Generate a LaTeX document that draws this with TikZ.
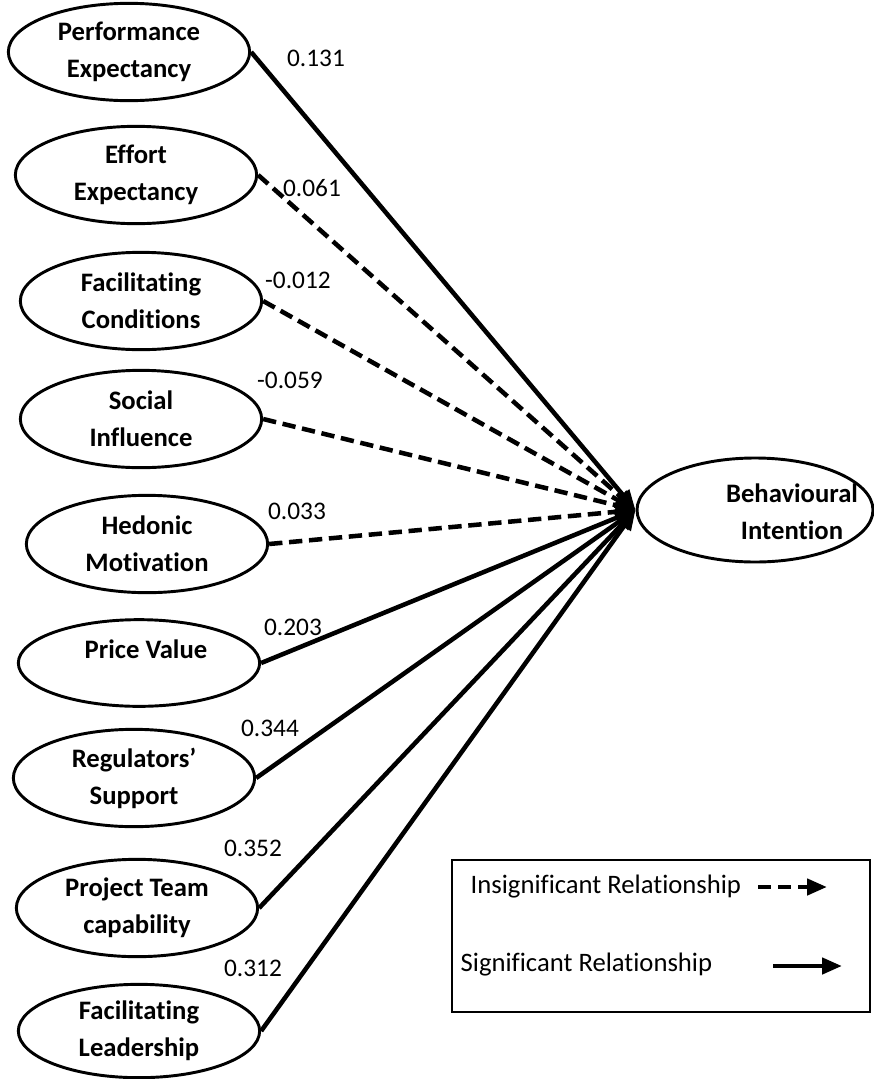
\documentclass[tikz,border=0pt]{standalone}
\usepackage{fontspec}
\setmainfont{Carlito}[Ligatures={NoCommon}]
\usetikzlibrary{arrows.meta,shapes.geometric}

\begin{document}
\begin{tikzpicture}[x=0.75pt, y=-0.75pt,
    construct/.style={draw, ellipse, line width=2.2pt, minimum width=181pt, minimum height=73pt, inner sep=0pt, align=center, font=\fontsize{20}{27.8}\selectfont\bfseries},
    ctext/.style={align=center, font=\fontsize{20}{27.8}\selectfont\bfseries},
    coef/.style={font=\fontsize{19}{22}\selectfont},
    sig/.style={line width=3.4pt, -{Triangle[length=15pt, width=12pt]}},
    insig/.style={sig, dash pattern=on 10pt off 5pt},
    legtext/.style={anchor=west, font=\fontsize{20}{24}\selectfont}
]
\useasboundingbox (0,0) rectangle (874,1079);

% constructs
\node[construct] (pe) at (129,52) {Performance\\Expectancy};
\node[construct] (ee) at (136,175) {Effort\\Expectancy};
\node[construct] (fc) at (141,301) {Facilitating\\Conditions};
\node[construct] (si) at (141,419) {Social\\Influence};
\node[construct] (hm) at (147,544) {Hedonic\\Motivation};
\node[construct, minimum height=65pt] (pv) at (139,663) {};
\node[ctext] (pvtxt) at (146,649) {Price Value};
\node[construct] (rs) at (134,778) {Regulators’\\Support};
\node[construct] (pt) at (137,908) {Project Team\\capability};
\node[construct, minimum height=70pt] (fl) at (139,1031) {Facilitating\\Leadership};

\node[construct, minimum width=177pt, minimum height=78pt] (bi) at (755,510) {};
\node[ctext] (bitxt) at (792,512) {Behavioural\\Intention};
\coordinate (tip) at (bi.west);

% paths
\draw[sig] (pe.east) -- (tip);
\draw[insig] (ee.east) -- (tip);
\draw[insig] (fc.east) -- (tip);
\draw[insig] (si.east) -- (tip);
\draw[insig] (hm.east) -- (tip);
\draw[sig] (pv.east) -- (tip);
\draw[sig] (rs.east) -- (tip);
\draw[sig] (pt.east) -- (tip);
\draw[sig] (fl.east) -- (tip);

\node[coef] (c1) at (316,58) {0.131};
\node[coef] (c2) at (312,188) {0.061};
\node[coef] (c3) at (298,280) {-0.012};
\node[coef] (c4) at (290,380) {-0.059};
\node[coef] (c5) at (297,511) {0.033};
\node[coef] (c6) at (293,627) {0.203};
\node[coef] (c7) at (270,728) {0.344};
\node[coef] (c8) at (253,848) {0.352};
\node[coef] (c9) at (253,968) {0.312};

% legend
\node[draw, line width=1.5pt, minimum width=313.5pt, minimum height=114pt] (legend) at (661,936) {};
\node[legtext] (l1) at (466,887) {Insignificant Relationship};
\node[legtext] (l2) at (456,965) {Significant Relationship};
\coordinate (d1) at (758,887);
\coordinate (d2) at (827,887);
\coordinate (s1) at (773,966);
\coordinate (s2) at (842,966);
\draw[insig] (d1) -- (d2);
\draw[sig] (s1) -- (s2);

\end{tikzpicture}
\end{document}
